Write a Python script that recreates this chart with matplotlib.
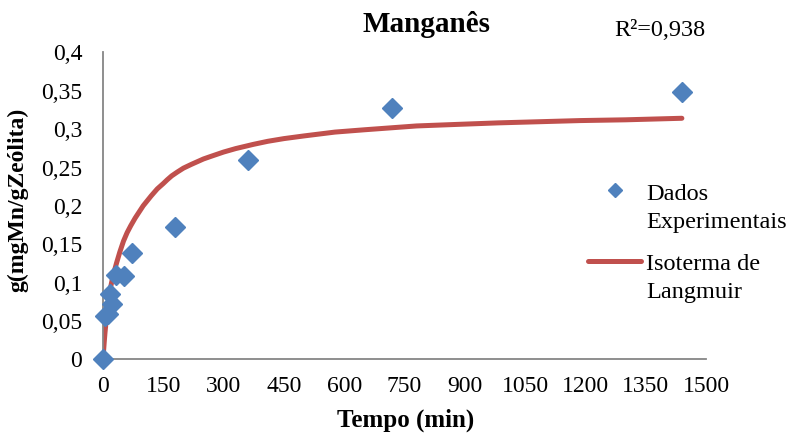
import matplotlib
matplotlib.use("Agg")
import matplotlib.pyplot as plt
from matplotlib.lines import Line2D
from matplotlib.ticker import MultipleLocator, FuncFormatter

# experimental uptake of Mn on zeolite
tempo = [0, 5, 13, 17, 22, 32, 53, 71, 180, 360, 720, 1440]
q_exp = [0, 0.055, 0.058, 0.084, 0.071, 0.109, 0.108, 0.137, 0.171, 0.259, 0.327, 0.347]

# Langmuir curve as plotted
tempo_lang = [0, 3, 5, 10, 17, 25, 34, 42, 51, 60, 69, 80, 90, 100, 110, 120,
              135, 150, 160, 171, 185, 200, 220, 250, 272, 300, 330, 374, 410,
              450, 500, 577, 650, 780, 880, 983, 1187, 1300, 1440]
q_lang = [0, 0.021, 0.034, 0.060, 0.088, 0.108, 0.125, 0.139, 0.153, 0.164,
          0.173, 0.183, 0.191, 0.199, 0.2055, 0.212, 0.221, 0.228, 0.233, 0.238,
          0.243, 0.248, 0.253, 0.260, 0.264, 0.269, 0.2735, 0.279, 0.283,
          0.2865, 0.290, 0.295, 0.298, 0.303, 0.305, 0.307, 0.310, 0.311, 0.313]

r2_text = "R²=0,938"

plt.rcParams['font.family'] = ['Liberation Serif', 'DejaVu Serif']

W, H = 794, 435
fig = plt.figure(figsize=(W / 100, H / 100), dpi=100)


def px(x, y):
    return x / W, 1 - y / H


x0, y0 = px(103, 359.5)
x1, y1 = px(706, 52.5)
ax = fig.add_axes([x0, y0, x1 - x0, y1 - y0])

blue = '#4F81BD'
red = '#C0504D'
grey = '#868686'

ax.plot(tempo_lang, q_lang, color=red, lw=3.6, solid_capstyle='round',
        solid_joinstyle='round', zorder=2)
ax.plot(tempo, q_exp, linestyle='none', marker='D', markersize=10,
        color=blue, clip_on=False, zorder=3)

ax.set_xlim(0, 1500)
ax.set_ylim(0, 0.4)
ax.xaxis.set_major_locator(MultipleLocator(150))
ax.yaxis.set_major_locator(MultipleLocator(0.05))
ax.yaxis.set_major_formatter(FuncFormatter(lambda v, p: f"{v:g}".replace('.', ',')))

for s in ['top', 'right']:
    ax.spines[s].set_visible(False)
for s in ['left', 'bottom']:
    ax.spines[s].set_color(grey)
    ax.spines[s].set_linewidth(1.3)

ax.tick_params(axis='both', length=0, labelsize=17, colors='black')
ax.tick_params(axis='y', pad=15)
ax.tick_params(axis='x', pad=12)

fig.text(*px(427, 25), "Manganês", fontsize=21, fontweight='bold',
         ha='center', va='center')
fig.text(*px(660, 30), r2_text, fontsize=17.5, ha='center', va='center')
fig.text(*px(18, 200), "g(mgMn/gZeólita)", fontsize=17, fontweight='bold',
         rotation=90, ha='center', va='center')
fig.text(*px(406, 420), "Tempo (min)", fontsize=18, fontweight='bold',
         ha='center', va='center')

# legend drawn by hand so the keys sit on the first line of each label
mx, my = px(615, 191)
fig.add_artist(Line2D([mx], [my], marker='D', markersize=7, color=blue,
                      linestyle='none', transform=fig.transFigure))
lx0, ly = px(588, 262)
lx1, _ = px(641, 262)
fig.add_artist(Line2D([lx0, lx1], [ly, ly], color=red, lw=3.6,
                      solid_capstyle='round', transform=fig.transFigure))
legend_lines = [("Dados", 200), ("Experimentais", 228),
                ("Isoterma de", 270), ("Langmuir", 298)]
for txt, yb in legend_lines:
    fig.text(*px(646, yb), txt, fontsize=17.5, ha='left', va='baseline')

fig.savefig('out.png', dpi=100)
